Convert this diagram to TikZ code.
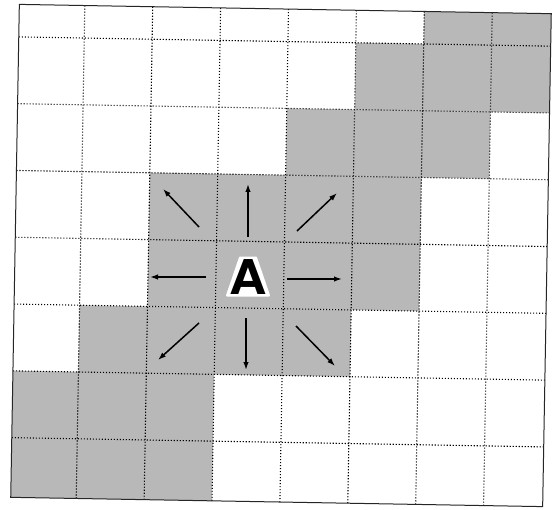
\documentclass[tikz,border=0pt]{standalone}
\usepackage{fontspec}
\setmainfont{TeX Gyre Heros}
\usetikzlibrary{arrows.meta,calc}
\definecolor{cellgray}{gray}{0.72}
\tikzset{
  cellfill/.style={fill=cellgray, draw=none},
  gridline/.style={draw=black, line width=1.1pt, dash pattern=on 1.1pt off 1.9pt},
  frameline/.style={draw=black!85, line width=1pt},
  arr/.style={draw=black, line width=1.5pt, -{Latex[length=8pt,width=5.5pt]}},
  biglabel/.style={font=\bfseries\fontsize{48}{48}\selectfont, inner sep=0pt, xscale=1.08},
  halo/.style={fill=white, draw=white, line width=2pt, line join=round}
}
\begin{document}
\begin{tikzpicture}[x=1pt,y=-1pt]
\useasboundingbox (0,0) rectangle (553,510);
\fill[white] (0,0) rectangle (553,510);
\begin{scope}[rotate around={-1:(281,255)}]
  % gray cells
  \path[cellfill] (420,9) rectangle (547,41.5);
  \path[cellfill] (352.1,41.5) rectangle (547,108.3);
  \path[cellfill] (284.2,108.3) rectangle (487.9,175.1);
  \path[cellfill] (148.4,175.1) rectangle (420,308.7);
  \path[cellfill] (80.5,308.7) rectangle (352.1,375.5);
  \path[cellfill] (15,375.5) rectangle (216.3,502);
  % grid
  \foreach \gx in {80.5,148.4,216.3,284.2,352.1,420,487.9}
    \draw[gridline] (\gx,9) -- (\gx,502);
  \foreach \gy in {41.5,108.3,175.1,241.9,308.7,375.5,442.3}
    \draw[gridline] (15,\gy) -- (547,\gy);
  \draw[frameline] (15,9) rectangle (547,502);
\end{scope}
% white halo behind the letter
\coordinate (Ac) at (248,277);
\path[halo] ($(Ac)+(-8,-19.5)$) -- ($(Ac)+(8,-19.5)$) -- ($(Ac)+(21,18.5)$) -- ($(Ac)+(-21,18.5)$) -- cycle;
% central letter
\node[biglabel] (A) at (Ac) {A};
% arrow end points
\coordinate (nwT) at (199,227); \coordinate (nwH) at (163,189);
\coordinate (nT)  at (248,237); \coordinate (nH)  at (248,184);
\coordinate (neT) at (297,231); \coordinate (neH) at (337,193);
\coordinate (wT)  at (206,277); \coordinate (wH)  at (150,277);
\coordinate (eT)  at (287,279); \coordinate (eH)  at (342,279);
\coordinate (swT) at (199,323); \coordinate (swH) at (158,360);
\coordinate (sT)  at (246,318); \coordinate (sH)  at (246,370);
\coordinate (seT) at (296,326); \coordinate (seH) at (335,366);
\draw[arr] (nwT) -- (nwH);
\draw[arr] (nT) -- (nH);
\draw[arr] (neT) -- (neH);
\draw[arr] (wT) -- (wH);
\draw[arr] (eT) -- (eH);
\draw[arr] (swT) -- (swH);
\draw[arr] (sT) -- (sH);
\draw[arr] (seT) -- (seH);
\end{tikzpicture}
\end{document}
